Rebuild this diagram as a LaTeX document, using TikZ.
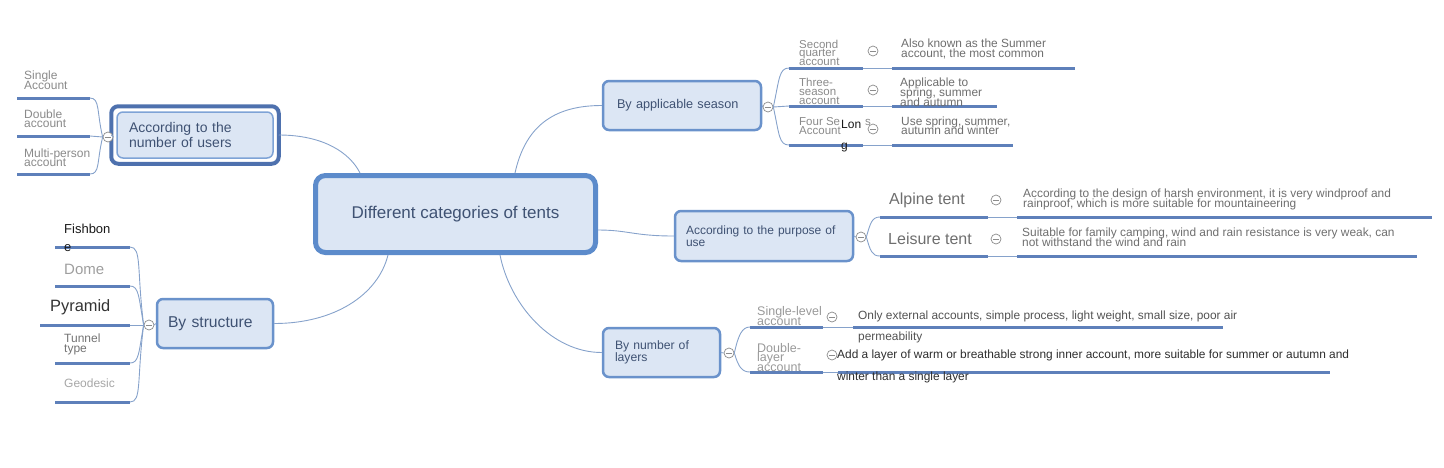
\documentclass[tikz,border=0pt]{standalone}
\usepackage{fontspec}
\setmainfont{Liberation Sans}
\usetikzlibrary{positioning,calc}
\setlength{\lineskiplimit}{-30pt}
\definecolor{boxfill}{HTML}{DCE6F4}
\definecolor{boxline}{HTML}{6A92CB}
\definecolor{ctrline}{HTML}{5C8BCB}
\definecolor{boxtext}{HTML}{3F5273}
\definecolor{selframe}{HTML}{4E71AE}
\definecolor{selinner}{HTML}{7EA3D6}
\definecolor{ulinecol}{HTML}{5E80BA}
\definecolor{conncol}{HTML}{86A2CB}
\definecolor{foldcol}{HTML}{8C8C8C}
\definecolor{leafgray}{HTML}{8A8A8A}
\definecolor{descgray}{HTML}{6E6E6E}

\tikzset{
  topic/.style={draw=boxline, line width=2.5pt, fill=boxfill, rounded corners=6pt,
    text=boxtext, align=left, inner ysep=0pt},
  leaf/.style={anchor=west, inner sep=0pt, align=left, text=leafgray},
  uline/.style={draw=ulinecol, line width=3pt},
  conn/.style={draw=conncol, line width=0.9pt},
  fold/.style={circle, draw=foldcol, fill=white, line width=0.7pt, inner sep=0pt,
    minimum size=10pt,
    path picture={\draw[foldcol, line width=0.7pt]
      ([xshift=-3pt]path picture bounding box.center) --
      ([xshift=3pt]path picture bounding box.center);}},
}

\begin{document}
\begin{tikzpicture}[x=1pt, y=-1pt]
  \useasboundingbox (0,0) rectangle (1444,467);

  % central topic
  \node[topic, draw=ctrline, line width=5pt, rounded corners=10pt, align=center,
        minimum width=280pt, minimum height=77pt, font=\fontsize{17}{20}\selectfont]
        (ctr) at (455.5,214) {Different categories of tents};

  % main branches
  \node[topic, draw=selinner, line width=1.5pt, minimum height=46pt, inner xsep=12pt,
        text width=132pt, font=\fontsize{14}{13}\selectfont] (users) at (195,135)
        {According to the\\number of users};
  \draw[selframe, line width=4pt, rounded corners=7pt]
        ([shift={(-5,-5)}]users.north west) rectangle ([shift={(5,5)}]users.south east);
  \node[topic, minimum height=49pt, inner xsep=11pt, text width=94pt,
        font=\fontsize{15.7}{18}\selectfont] (struct) at (215,323.5) {By structure};
  \node[topic, minimum height=49pt, inner xsep=14pt, text width=130pt,
        font=\fontsize{12.7}{15}\selectfont] (season) at (682,105.5) {By applicable season};
  \node[topic, minimum height=50pt, inner xsep=11pt, text width=156pt,
        font=\fontsize{12}{12}\selectfont] (purpose) at (764,236)
        {According to the purpose of\\use};
  \node[topic, minimum height=49pt, inner xsep=12pt, text width=93pt,
        font=\fontsize{12.2}{12}\selectfont] (layers) at (661.5,352.5)
        {By number of\\layers};

  % fold circles
  \node[fold] (cu) at (108,137) {};
  \node[fold] (cs) at (149,325) {};
  \node[fold] (ca) at (768,107) {};
  \node[fold] (cp) at (861,237) {};
  \node[fold] (cl) at (729,353) {};
  \node[fold] (ca1) at (873,51) {};
  \node[fold] (ca2) at (873,90) {};
  \node[fold] (ca3) at (873,129) {};
  \node[fold] (cp1) at (996,200) {};
  \node[fold] (cp2) at (996,239) {};
  \node[fold] (cl1) at (832,317) {};
  \node[fold] (cl2) at (832,355) {};

  % center to branches
  \draw[conn] ([xshift=5pt]users.east) .. controls +(45,0) and +(-10,-20) .. ([xshift=47pt]ctr.north west);
  \draw[conn] ([xshift=75pt]ctr.south west) .. controls +(-10,40) and +(60,0) .. (struct.east);
  \draw[conn] ([xshift=202pt]ctr.north west) .. controls +(10,-45) and +(-50,0) .. (season.west);
  \draw[conn] ([yshift=-16pt]ctr.east) .. controls +(30,0) and +(-40,0) .. (purpose.west);
  \draw[conn] ([xshift=187pt]ctr.south west) .. controls +(10,50) and +(-50,0) .. (layers.west);
  \draw[conn] ([xshift=-5pt]users.west) -- (cu.east);
  \draw[conn] (struct.west) -- (cs.east);
  \draw[conn] (season.east) -- (ca.west);
  \draw[conn] (purpose.east) -- (cp.west);
  \draw[conn] (layers.east) -- (cl.west);

  % number of users
  \draw[uline] (17,98) coordinate (u1a) -- (90,98) coordinate (u1b);
  \draw[uline] (17,136) coordinate (u2a) -- (90,136) coordinate (u2b);
  \draw[uline] (17,174) coordinate (u3a) -- (90,174) coordinate (u3b);
  \node[leaf, font=\fontsize{12}{9.5}\selectfont] (single) at (24,80) {Single\\Account};
  \node[leaf, font=\fontsize{12}{9.5}\selectfont] (double) at (24,118.5) {Double\\account};
  \node[leaf, font=\fontsize{12}{9.5}\selectfont] (multi) at (24,157.5) {Multi-person\\account};
  \draw[conn] (cu.west) .. controls +(-6,-25) and +(10,0) .. (u1b);
  \draw[conn] (cu.west) -- (u2b);
  \draw[conn] (cu.west) .. controls +(-6,25) and +(10,0) .. (u3b);

  % structure
  \draw[uline] (55,247) coordinate (t1a) -- (130,247) coordinate (t1b);
  \draw[uline] (55,286) coordinate (t2a) -- (130,286) coordinate (t2b);
  \draw[uline] (40,325) coordinate (t3a) -- (130,325) coordinate (t3b);
  \draw[uline] (55,363) coordinate (t4a) -- (130,363) coordinate (t4b);
  \draw[uline] (55,402) coordinate (t5a) -- (130,402) coordinate (t5b);
  \node[leaf, text=black!90, font=\fontsize{13}{18}\selectfont] (fishbone) at (64,238) {Fishbon\\e};
  \node[leaf, text=black!38, font=\fontsize{15}{18}\selectfont] (dome) at (64,269) {Dome};
  \node[leaf, text=black!80, font=\fontsize{16.4}{18}\selectfont] (pyramid) at (50,307) {Pyramid};
  \node[leaf, text=black!55, font=\fontsize{12}{10}\selectfont] (tunnel) at (64,344) {Tunnel\\type};
  \node[leaf, text=black!35, font=\fontsize{12}{14}\selectfont] (geodesic) at (64,383.5) {Geodesic};
  \draw[conn] (cs.west) .. controls +(-7,-55) and +(12,0) .. (t1b);
  \draw[conn] (cs.west) .. controls +(-5,-28) and +(9,0) .. (t2b);
  \draw[conn] (cs.west) -- (t3b);
  \draw[conn] (cs.west) .. controls +(-5,28) and +(9,0) .. (t4b);
  \draw[conn] (cs.west) .. controls +(-7,55) and +(12,0) .. (t5b);

  % applicable season
  \draw[uline] (789,68) coordinate (s1a) -- (863,68) coordinate (s1b);
  \draw[uline] (789,106) coordinate (s2a) -- (863,106) coordinate (s2b);
  \draw[uline] (789,145) coordinate (s3a) -- (863,145) coordinate (s3b);
  \draw[uline] (892,68) coordinate (sd1a) -- (1075,68) coordinate (sd1b);
  \draw[uline] (892,106) coordinate (sd2a) -- (997,106) coordinate (sd2b);
  \draw[uline] (892,145) coordinate (sd3a) -- (1013,145) coordinate (sd3b);
  \node[leaf, font=\fontsize{11.5}{8.5}\selectfont] (second) at (799,52.5) {Second\\quarter\\account};
  \node[leaf, font=\fontsize{11.5}{9}\selectfont] (three) at (799,91.5) {Three-\\season\\account};
  \node[leaf, font=\fontsize{11.5}{9}\selectfont] (four) at (799,126.5) {Four Se\hspace{25pt}s\\Account};
  \node[leaf, text=black!90, font=\fontsize{12}{21}\selectfont] (long) at (841,136) {Lon\\g};
  \node[leaf, text=descgray, font=\fontsize{11.9}{10}\selectfont] (summer) at (901,49)
        {Also known as the Summer\\account, the most common};
  \node[leaf, text=descgray, font=\fontsize{11.9}{10}\selectfont] (spring) at (900,92)
        {Applicable to\\spring, summer\\and autumn};
  \node[leaf, text=descgray, font=\fontsize{11.9}{9.5}\selectfont] (winter) at (901,125.5)
        {Use spring, summer,\\autumn and winter};
  \draw[conn] (ca.east) .. controls +(6,-28) and +(-10,0) .. (s1a);
  \draw[conn] (ca.east) -- (s2a);
  \draw[conn] (ca.east) .. controls +(6,28) and +(-10,0) .. (s3a);
  \draw[conn] (s1b) -- (sd1a);
  \draw[conn] (s2b) -- (sd2a);
  \draw[conn] (s3b) -- (sd3a);

  % purpose of use
  \draw[uline] (880,217) coordinate (p1a) -- (988,217) coordinate (p1b);
  \draw[uline] (880,256) coordinate (p2a) -- (988,256) coordinate (p2b);
  \draw[uline] (1017,217) coordinate (pd1a) -- (1432,217) coordinate (pd1b);
  \draw[uline] (1017,256) coordinate (pd2a) -- (1417,256) coordinate (pd2b);
  \node[leaf, text=descgray, font=\fontsize{16}{18}\selectfont] (alpine) at (889,200) {Alpine tent};
  \node[leaf, text=descgray, font=\fontsize{16}{18}\selectfont] (leisure) at (888,239) {Leisure tent};
  \node[leaf, text=descgray, font=\fontsize{11.9}{10}\selectfont] (harsh) at (1023,199)
        {According to the design of harsh environment, it is very windproof and\\rainproof, which is more suitable for mountaineering};
  \node[leaf, text=descgray, font=\fontsize{11.9}{10}\selectfont] (family) at (1022,237)
        {Suitable for family camping, wind and rain resistance is very weak, can\\not withstand the wind and rain};
  \draw[conn] (cp.east) .. controls +(4,-14) and +(-8,0) .. (p1a);
  \draw[conn] (cp.east) .. controls +(4,14) and +(-8,0) .. (p2a);
  \draw[conn] (p1b) -- (pd1a);
  \draw[conn] (p2b) -- (pd2a);

  % number of layers
  \draw[uline] (750,327) coordinate (l1a) -- (823,327) coordinate (l1b);
  \draw[uline] (750,372) coordinate (l2a) -- (823,372) coordinate (l2b);
  \draw[uline] (853,327) coordinate (ld1a) -- (1223,327) coordinate (ld1b);
  \draw[uline] (838,372) coordinate (ld2a) -- (1330,372) coordinate (ld2b);
  \node[leaf, text=black!40, font=\fontsize{12.5}{10}\selectfont] (singlelevel) at (757,316) {Single-level\\account};
  \node[leaf, text=black!40, font=\fontsize{12.5}{9.5}\selectfont] (doublelayer) at (757,357.5) {Double-\\layer\\account};
  \node[leaf, text=black!68, font=\fontsize{11.9}{21}\selectfont] (external) at (858,326.5)
        {Only external accounts, simple process, light weight, small size, poor air\\permeability};
  \node[leaf, text=black!82, font=\fontsize{11.9}{22}\selectfont] (inner) at (837,366)
        {Add a layer of warm or breathable strong inner account, more suitable for summer or autumn and\\winter than a single layer};
  \draw[conn] (cl.east) .. controls +(4,-18) and +(-8,0) .. (l1a);
  \draw[conn] (cl.east) .. controls +(4,14) and +(-8,0) .. (l2a);
  \draw[conn] (l1b) -- (ld1a);
  \draw[conn] (l2b) -- (ld2a);
\end{tikzpicture}
\end{document}
